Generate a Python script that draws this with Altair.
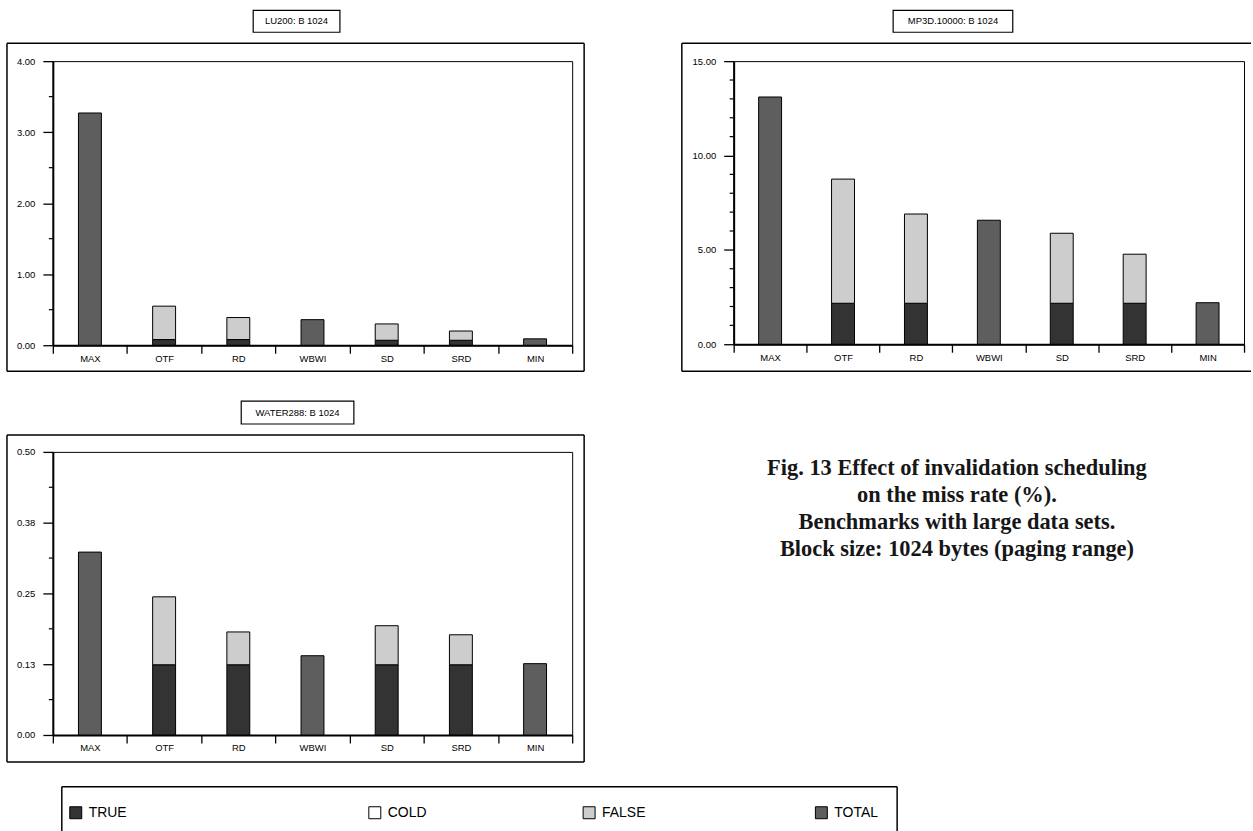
import altair as alt
import pandas as pd

# ---------------- data ----------------
categories = ["MAX", "OTF", "RD", "WBWI", "SD", "SRD", "MIN"]
series_names = ["TRUE", "COLD", "FALSE", "TOTAL"]
series_colors = ["#333333", "#ffffff", "#cdcdcd", "#5e5e5e"]

lu_title = "LU200: B 1024"
lu_true = [0.00, 0.08, 0.08, 0.00, 0.07, 0.07, 0.00]
lu_cold = [0, 0, 0, 0, 0, 0, 0]
lu_false = [0.00, 0.47, 0.31, 0.00, 0.23, 0.13, 0.00]
lu_total = [3.27, 0.00, 0.00, 0.36, 0.00, 0.00, 0.09]
lu_ticks = [0, 1, 2, 3, 4]
lu_minor = [0.5, 1.5, 2.5, 3.5]

mp_title = "MP3D.10000: B 1024"
mp_true = [0.00, 2.17, 2.17, 0.00, 2.17, 2.17, 0.00]
mp_cold = [0, 0, 0, 0, 0, 0, 0]
mp_false = [0.00, 6.58, 4.73, 0.00, 3.71, 2.60, 0.00]
mp_total = [13.10, 0.00, 0.00, 6.57, 0.00, 0.00, 2.20]
mp_ticks = [0, 5, 10, 15]
mp_minor = [1, 2, 3, 4, 6, 7, 8, 9, 11, 12, 13, 14]

wa_title = "WATER288: B 1024"
wa_true = [0.000, 0.124, 0.124, 0.000, 0.124, 0.124, 0.000]
wa_cold = [0, 0, 0, 0, 0, 0, 0]
wa_false = [0.000, 0.120, 0.058, 0.000, 0.069, 0.053, 0.000]
wa_total = [0.323, 0.000, 0.000, 0.140, 0.000, 0.000, 0.126]
wa_ticks = [0, 0.125, 0.25, 0.375, 0.5]   # shown as 0.00 0.13 0.25 0.38 0.50
wa_minor = [0.0625, 0.1875, 0.3125, 0.4375]

tick_format = ".2f"

caption_lines = [
    "Fig. 13 Effect of invalidation scheduling",
    "on the miss rate (%).",
    "Benchmarks with large data sets.",
    "Block size: 1024 bytes (paging range)",
]

# ---------------- helpers ----------------
fill_scale = alt.Scale(domain=series_names, range=series_colors)
one = pd.DataFrame({"k": [0]})
SANS = "Liberation Sans"


def hrule(x1, x2, y, w=1.5):
    return alt.Chart(one).mark_rule(color="black", strokeWidth=w).encode(
        x=alt.value(x1), x2=alt.value(x2), y=alt.value(y))


def vrule(x, y1, y2, w=1.5):
    return alt.Chart(one).mark_rule(color="black", strokeWidth=w).encode(
        x=alt.value(x), y=alt.value(y1), y2=alt.value(y2))


def long_table(true_v, cold_v, false_v, total_v):
    rows = []
    for i, c in enumerate(categories):
        for o, (s, arr) in enumerate(zip(series_names, [true_v, cold_v, false_v, total_v])):
            if arr[i] > 0:
                rows.append({"category": c, "series": s, "value": arr[i], "ord": o})
    return pd.DataFrame(rows)


def panel(title, true_v, cold_v, false_v, total_v, ymax, ticks, minor,
          frame, tbox, right_side=True):
    df = long_table(true_v, cold_v, false_v, total_v)
    yscale = alt.Scale(domain=[0, ymax], nice=False, zero=True)
    y_axis = alt.Axis(title=None, values=ticks, format=tick_format,
                      tickSize=10, tickWidth=1.3, labelPadding=8,
                      labelFontSize=9.5, domainWidth=2, labelFont=SANS)
    bars = alt.Chart(df).mark_bar(size=23, stroke="black", strokeWidth=1).encode(
        x=alt.X("category:N", sort=categories,
                scale=alt.Scale(paddingInner=0, paddingOuter=0),
                axis=alt.Axis(title=None, tickBand="extent", tickSize=8, tickWidth=1.3,
                              labelAngle=0, labelFontSize=9.5, labelPadding=0,
                              domainWidth=2, labelFont=SANS)),
        y=alt.Y("value:Q", stack="zero", scale=yscale, axis=y_axis),
        fill=alt.Fill("series:N", scale=fill_scale, legend=None),
        order=alt.Order("ord:Q"),
    )
    minor_ticks = alt.Chart(pd.DataFrame({"value": minor})).mark_rule(
        color="black", strokeWidth=1.2).encode(
        y=alt.Y("value:Q", scale=yscale, axis=y_axis), x=alt.value(-4), x2=alt.value(0))

    fx1, fx2, fy1, fy2 = frame
    layers = [hrule(fx1, fx2, fy1), hrule(fx1, fx2, fy2), vrule(fx1, fy1, fy2)]
    if right_side:
        layers.append(vrule(fx2, fy1, fy2))

    tx1, tx2, ty1, ty2 = tbox
    tb = alt.Chart(one).mark_rect(fill="white", stroke="black", strokeWidth=1.2).encode(
        x=alt.value(tx1), x2=alt.value(tx2), y=alt.value(ty1), y2=alt.value(ty2))
    tt = alt.Chart(pd.DataFrame({"t": [title]})).mark_text(
        font=SANS, fontSize=9.5, color="black", align="center", baseline="middle").encode(
        x=alt.value((tx1 + tx2) / 2), y=alt.value((ty1 + ty2) / 2), text="t:N")

    return [bars, minor_ticks, tb, tt] + layers


# ---------------- panels ----------------
p1 = alt.layer(*panel(lu_title, lu_true, lu_cold, lu_false, lu_total, 4, lu_ticks,
                      lu_minor, (-46, 533, -18, 311), (201, 288, -51, -29))
               ).properties(width=521, height=285)

p2 = alt.layer(*panel(mp_title, mp_true, mp_cold, mp_false, mp_total, 15, mp_ticks,
                      mp_minor, (-52, 519, -18, 311), (160, 280, -51, -29),
                      right_side=False)
               ).properties(width=512, height=284)

p3_layers = panel(wa_title, wa_true, wa_cold, wa_false, wa_total, 0.5, wa_ticks,
                  wa_minor, (-46, 533, -17, 311), (189, 302, -51, -28))

# caption
cap = alt.Chart(pd.DataFrame({"t": ["\n".join(caption_lines)]})).mark_text(
    font="Liberation Serif", fontWeight="bold", fontSize=22.5, color="#161616",
    align="center", baseline="middle", lineBreak="\n", lineHeight=27).encode(
    x=alt.value(907), y=alt.value(16), text="t:N")

# legend box (bottom edge is cut off by the page)
leg_top, leg_left, leg_right, leg_bottom = 336, 9, 847, 381
leg_layers = [hrule(leg_left, leg_right, leg_top), vrule(leg_left, leg_top, leg_bottom),
              vrule(leg_right, leg_top, leg_bottom)]
leg_x = [23, 323, 538, 771]
leg_y = 362
for name, lx in zip(series_names, leg_x):
    d = pd.DataFrame({"series": [name]})
    leg_layers.append(alt.Chart(d).mark_square(size=144, stroke="black", strokeWidth=1,
                                               opacity=1).encode(
        x=alt.value(lx), y=alt.value(leg_y),
        fill=alt.Fill("series:N", scale=fill_scale, legend=None)))
    leg_layers.append(alt.Chart(d).mark_text(font=SANS, fontSize=14, color="black",
                                             align="left", baseline="middle").encode(
        x=alt.value(lx + 13), y=alt.value(leg_y), text="series:N"))

p3 = alt.layer(*(p3_layers + [cap] + leg_layers)).properties(width=521, height=284)

chart = alt.vconcat(
    alt.hconcat(p1, p2, spacing=94),
    alt.hconcat(p3),
    spacing=26,
).properties(
    padding={"left": 5, "top": 7, "right": 0, "bottom": 0},
    background="white",
).configure_view(
    stroke="black", strokeWidth=1
).configure_axis(
    labelColor="black", domainColor="black", tickColor="black", grid=False
)

chart.save("out.html", embed_options={"renderer": "svg", "actions": False})
